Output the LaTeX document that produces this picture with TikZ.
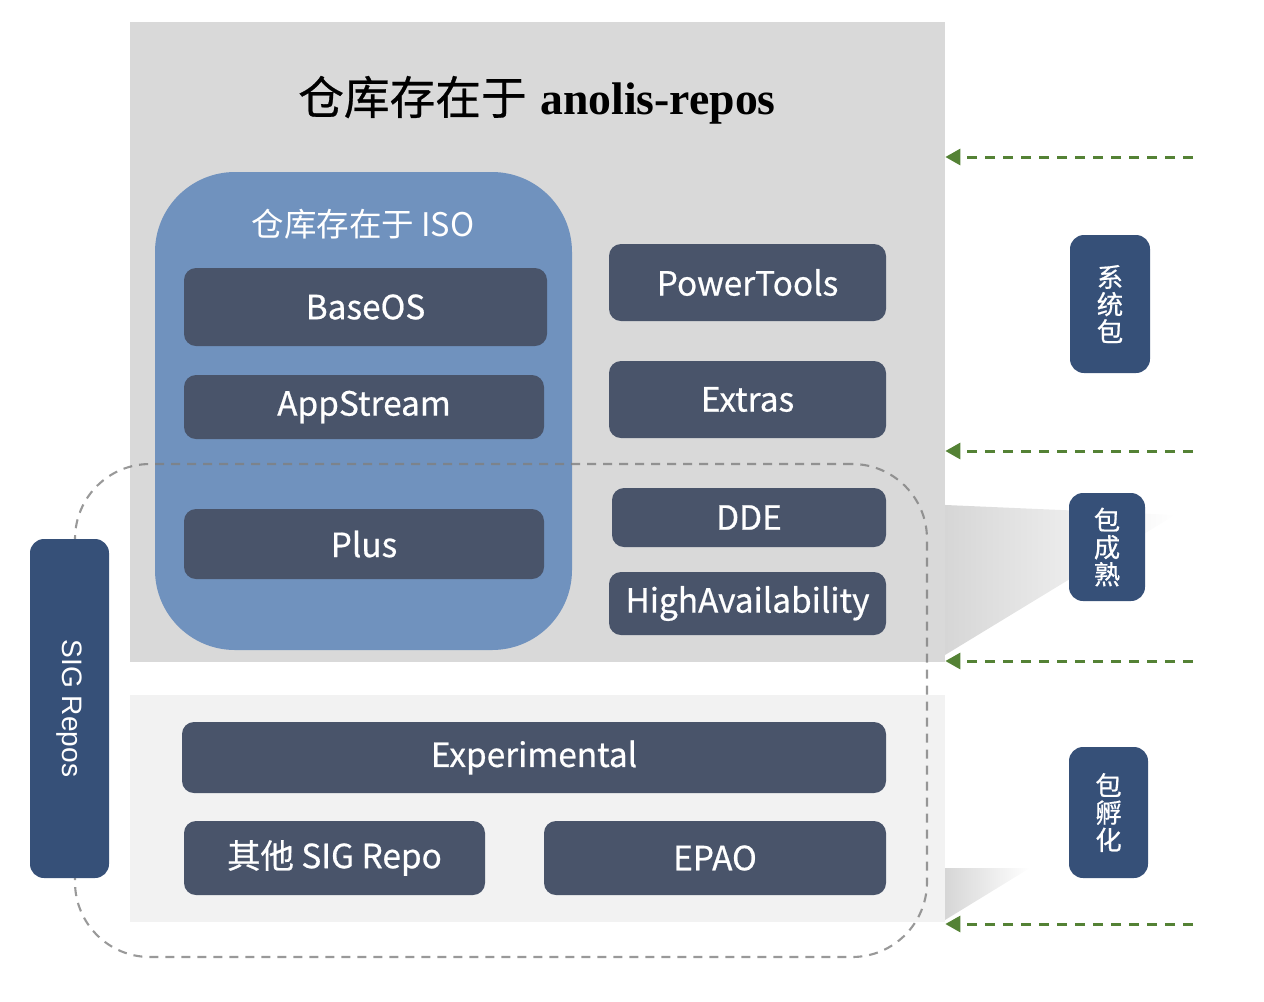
\documentclass[tikz,border=0pt]{standalone}
\usepackage{fontspec}
\newfontfamily\cjk{Noto Sans CJK SC}
\newfontfamily\cjkm[FakeBold=0.6]{Noto Sans CJK SC}
\newfontfamily\titleserif{Liberation Serif}
\newfontfamily\sigfont{Liberation Sans}
\usetikzlibrary{arrows.meta}
\usetikzlibrary{fadings}
\definecolor{panelgray}{RGB}{217,217,217}
\definecolor{panellight}{RGB}{242,242,242}
\definecolor{isoblue}{RGB}{112,146,190}
\definecolor{repobox}{RGB}{73,84,106}
\definecolor{tagblue}{RGB}{54,80,120}
\definecolor{arrowgreen}{RGB}{84,130,53}
\definecolor{sigdash}{RGB}{128,128,128}

\begin{document}
\begin{tikzpicture}[
    repo/.style={rectangle, fill=repobox, rounded corners=0.24cm, text=white, inner sep=0pt, font=\cjkm\fontsize{19}{22}\selectfont},
    tag/.style={rectangle, fill=tagblue, rounded corners=0.28cm, text=white, inner sep=0pt, align=center, font=\cjkm\fontsize{15}{15.5}\selectfont},
    pointer/.style={draw=arrowgreen, line width=1.7pt, dash pattern=on 0.2cm off 0.16cm, -{Triangle[length=0.3cm, width=0.32cm]}}
  ]
    \useasboundingbox (0,0) rectangle (25.28,-20.02);

    \node[rectangle, fill=panelgray, minimum width=16.3cm, minimum height=12.8cm] (repos) at (10.75,-6.84) {};
    \node[rectangle, fill=panellight, minimum width=16.3cm, minimum height=4.54cm] (sig) at (10.75,-16.17) {};
    \fill[black!16, path fading=east] (18.9,-10.1) -- (23.5,-10.3) -- (18.9,-13.1) -- cycle;
    \fill[black!16, path fading=east] (18.9,-17.36) -- (20.6,-17.36) -- (18.9,-18.4) -- cycle;

    \node[font=\fontsize{26}{30}\selectfont] (title) at (10.74,-2.0) {{\cjkm 仓库存在于} {\titleserif\bfseries anolis-repos}};

    \node[rectangle, fill=isoblue, rounded corners=1.6cm, minimum width=8.34cm, minimum height=9.56cm] (iso) at (7.27,-8.22) {};
    \node[text=white, font=\cjk\fontsize{18.5}{20}\selectfont] (isotitle) at (7.26,-4.48) {仓库存在于 ISO};

    \node[repo, minimum width=7.26cm, minimum height=1.56cm] (baseos) at (7.31,-6.14) {BaseOS};
    \node[repo, minimum width=7.2cm, minimum height=1.28cm] (appstream) at (7.28,-8.14) {AppStream};
    \node[repo, minimum width=7.2cm, minimum height=1.4cm] (plus) at (7.28,-10.88) {Plus};
    \node[repo, minimum width=5.54cm, minimum height=1.54cm] (powertools) at (14.95,-5.65) {PowerTools};
    \node[repo, minimum width=5.54cm, minimum height=1.54cm] (extras) at (14.95,-7.99) {Extras};
    \node[repo, minimum width=5.48cm, minimum height=1.18cm] (dde) at (14.98,-10.35) {DDE};
    \node[repo, minimum width=5.54cm, minimum height=1.26cm] (ha) at (14.95,-12.07) {HighAvailability};
    \node[repo, minimum width=14.08cm, minimum height=1.42cm] (experimental) at (10.68,-15.15) {Experimental};
    \node[repo, minimum width=6.02cm, minimum height=1.48cm] (othersig) at (6.69,-17.16) {其他 SIG Repo};
    \node[repo, minimum width=6.84cm, minimum height=1.48cm] (epao) at (14.3,-17.16) {EPAO};

    \node[rectangle, draw=sigdash, line width=1.2pt, dash pattern=on 0.18cm off 0.14cm, rounded corners=1.5cm, draw opacity=0.8, minimum width=17.04cm, minimum height=9.86cm] (sigarea) at (10.02,-14.21) {};
    \node[tag, rotate=-90, minimum width=6.78cm, minimum height=1.58cm, font=\sigfont\fontsize{16}{18}\selectfont] (sigrepos) at (1.39,-14.17) {SIG Repos};

    \node[tag, minimum width=1.6cm, minimum height=2.76cm] (system) at (22.2,-6.08) {系\\统\\包};
    \node[tag, minimum width=1.52cm, minimum height=2.16cm] (mature) at (22.14,-10.94) {包\\成\\熟};
    \node[tag, minimum width=1.58cm, minimum height=2.62cm] (incubate) at (22.17,-16.25) {包\\孵\\化};

    \coordinate (p1) at (23.86,-3.14);
    \coordinate (p2) at (23.86,-9.02);
    \coordinate (p3) at (23.86,-13.22);
    \coordinate (p4) at (23.86,-18.48);
    \draw[pointer] (p1) -- (p1 -| repos.east);
    \draw[pointer] (p2) -- (p2 -| repos.east);
    \draw[pointer] (p3) -- (p3 -| repos.east);
    \draw[pointer] (p4) -- (p4 -| sig.east);
  \end{tikzpicture}
\end{document}
